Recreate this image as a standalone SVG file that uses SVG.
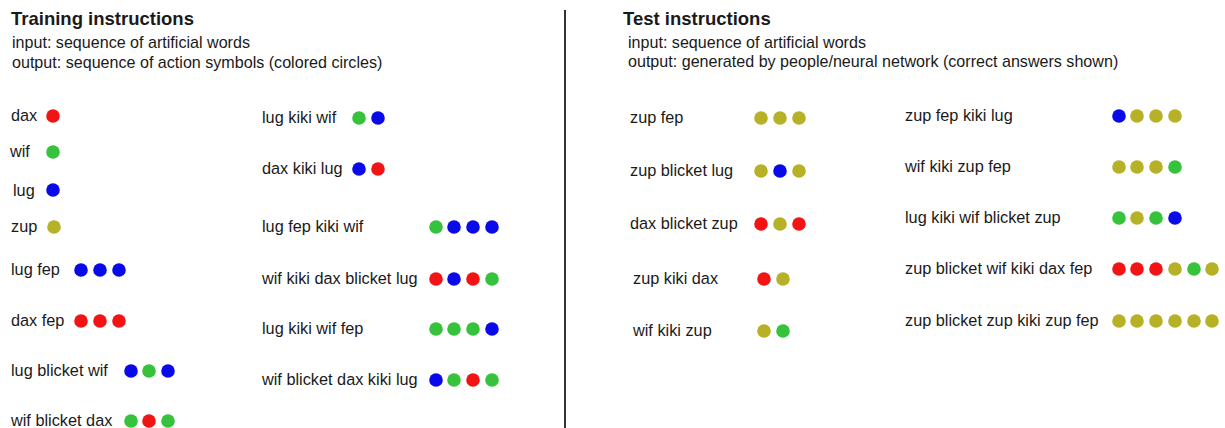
<svg xmlns="http://www.w3.org/2000/svg" width="1225" height="428" viewBox="0 0 1225 428">
  <style>
    text { font-family: "Liberation Sans", Arial, Helvetica, sans-serif; fill: #1a1a1a; }
    .h { font-size: 18.5px; font-weight: bold; }
    .sub { font-size: 16.1px; }
    .lbl { font-size: 16.3px; }
    circle { stroke: none; }
    .r { fill: #f21414; }
    .g { fill: #36c23a; }
    .b { fill: #0a0ae8; }
    .y { fill: #b6b126; }
  </style>
  <defs>
    <circle id="dot" r="6.8"/>
  </defs>
  <rect width="1225" height="428" fill="#ffffff"/>

  <!-- divider between the two panels -->
  <line x1="565" y1="10" x2="565" y2="428" stroke="#333333" stroke-width="2"/>

  <!-- left panel header -->
  <g id="training-header">
    <text class="h" x="11" y="25">Training instructions</text>
    <text class="sub" x="12" y="48">input: sequence of artificial words</text>
    <text class="sub" x="12" y="68">output: sequence of action symbols (colored circles)</text>
  </g>

  <!-- right panel header -->
  <g id="test-header">
    <text class="h" x="623" y="25">Test instructions</text>
    <text class="sub" x="628" y="48">input: sequence of artificial words</text>
    <text class="sub" x="628" y="67">output: generated by people/neural network (correct answers shown)</text>
  </g>

  <!-- training: primitives and functions -->
  <g id="tr-dax"><text class="lbl" x="11" y="121">dax</text><use href="#dot" class="r" x="53" y="116"/></g>
  <g id="tr-wif"><text class="lbl" x="10" y="157">wif</text><use href="#dot" class="g" x="53" y="152"/></g>
  <g id="tr-lug"><text class="lbl" x="13" y="196">lug</text><use href="#dot" class="b" x="53" y="190"/></g>
  <g id="tr-zup"><text class="lbl" x="11" y="232">zup</text><use href="#dot" class="y" x="54" y="227"/></g>
  <g id="tr-lug-fep"><text class="lbl" x="11" y="275">lug fep</text>
    <use href="#dot" class="b" x="81" y="270"/><use href="#dot" class="b" x="100" y="270"/><use href="#dot" class="b" x="119" y="270"/></g>
  <g id="tr-dax-fep"><text class="lbl" x="11" y="326">dax fep</text>
    <use href="#dot" class="r" x="81" y="321"/><use href="#dot" class="r" x="100" y="321"/><use href="#dot" class="r" x="119" y="321"/></g>
  <g id="tr-lug-blicket-wif"><text class="lbl" x="11" y="376">lug blicket wif</text>
    <use href="#dot" class="b" x="131" y="371"/><use href="#dot" class="g" x="149" y="371"/><use href="#dot" class="b" x="168" y="371"/></g>
  <g id="tr-wif-blicket-dax"><text class="lbl" x="11" y="426">wif blicket dax</text>
    <use href="#dot" class="g" x="131" y="421"/><use href="#dot" class="r" x="149" y="421"/><use href="#dot" class="g" x="168" y="421"/></g>

  <g id="tr-lug-kiki-wif"><text class="lbl" x="262" y="123">lug kiki wif</text>
    <use href="#dot" class="g" x="359" y="118"/><use href="#dot" class="b" x="378" y="118"/></g>
  <g id="tr-dax-kiki-lug"><text class="lbl" x="262" y="174">dax kiki lug</text>
    <use href="#dot" class="b" x="359" y="169"/><use href="#dot" class="r" x="378" y="169"/></g>
  <g id="tr-lug-fep-kiki-wif"><text class="lbl" x="262" y="232">lug fep kiki wif</text>
    <use href="#dot" class="g" x="436" y="227"/><use href="#dot" class="b" x="454" y="227"/><use href="#dot" class="b" x="473" y="227"/><use href="#dot" class="b" x="492" y="227"/></g>
  <g id="tr-wif-kiki-dax-blicket-lug"><text class="lbl" x="262" y="284">wif kiki dax blicket lug</text>
    <use href="#dot" class="r" x="436" y="279"/><use href="#dot" class="b" x="454" y="279"/><use href="#dot" class="r" x="473" y="279"/><use href="#dot" class="g" x="492" y="279"/></g>
  <g id="tr-lug-kiki-wif-fep"><text class="lbl" x="262" y="334">lug kiki wif fep</text>
    <use href="#dot" class="g" x="436" y="329"/><use href="#dot" class="g" x="454" y="329"/><use href="#dot" class="g" x="473" y="329"/><use href="#dot" class="b" x="492" y="329"/></g>
  <g id="tr-wif-blicket-dax-kiki-lug"><text class="lbl" x="262" y="385">wif blicket dax kiki lug</text>
    <use href="#dot" class="b" x="436" y="380"/><use href="#dot" class="g" x="454" y="380"/><use href="#dot" class="r" x="473" y="380"/><use href="#dot" class="g" x="492" y="380"/></g>

  <!-- test: first column -->
  <g id="te-zup-fep"><text class="lbl" x="630" y="123">zup fep</text>
    <use href="#dot" class="y" x="761" y="118"/><use href="#dot" class="y" x="780" y="118"/><use href="#dot" class="y" x="799" y="118"/></g>
  <g id="te-zup-blicket-lug"><text class="lbl" x="630" y="176">zup blicket lug</text>
    <use href="#dot" class="y" x="761" y="171"/><use href="#dot" class="b" x="780" y="171"/><use href="#dot" class="y" x="799" y="171"/></g>
  <g id="te-dax-blicket-zup"><text class="lbl" x="630" y="229">dax blicket zup</text>
    <use href="#dot" class="r" x="761" y="224"/><use href="#dot" class="y" x="780" y="224"/><use href="#dot" class="r" x="799" y="224"/></g>
  <g id="te-zup-kiki-dax"><text class="lbl" x="633" y="284">zup kiki dax</text>
    <use href="#dot" class="r" x="764" y="279"/><use href="#dot" class="y" x="783" y="279"/></g>
  <g id="te-wif-kiki-zup"><text class="lbl" x="633" y="336">wif kiki zup</text>
    <use href="#dot" class="y" x="764" y="331"/><use href="#dot" class="g" x="783" y="331"/></g>

  <!-- test: second column -->
  <g id="te-zup-fep-kiki-lug"><text class="lbl" x="905" y="121">zup fep kiki lug</text>
    <use href="#dot" class="b" x="1119" y="116"/><use href="#dot" class="y" x="1137" y="116"/><use href="#dot" class="y" x="1156" y="116"/><use href="#dot" class="y" x="1175" y="116"/></g>
  <g id="te-wif-kiki-zup-fep"><text class="lbl" x="905" y="172">wif kiki zup fep</text>
    <use href="#dot" class="y" x="1119" y="167"/><use href="#dot" class="y" x="1137" y="167"/><use href="#dot" class="y" x="1156" y="167"/><use href="#dot" class="g" x="1175" y="167"/></g>
  <g id="te-lug-kiki-wif-blicket-zup"><text class="lbl" x="905" y="223">lug kiki wif blicket zup</text>
    <use href="#dot" class="g" x="1119" y="218"/><use href="#dot" class="y" x="1137" y="218"/><use href="#dot" class="g" x="1156" y="218"/><use href="#dot" class="b" x="1175" y="218"/></g>
  <g id="te-zup-blicket-wif-kiki-dax-fep"><text class="lbl" x="905" y="274">zup blicket wif kiki dax fep</text>
    <use href="#dot" class="r" x="1119" y="269"/><use href="#dot" class="r" x="1137" y="269"/><use href="#dot" class="r" x="1156" y="269"/><use href="#dot" class="y" x="1175" y="269"/><use href="#dot" class="g" x="1194" y="269"/><use href="#dot" class="y" x="1212" y="269"/></g>
  <g id="te-zup-blicket-zup-kiki-zup-fep"><text class="lbl" x="905" y="326">zup blicket zup kiki zup fep</text>
    <use href="#dot" class="y" x="1119" y="321"/><use href="#dot" class="y" x="1137" y="321"/><use href="#dot" class="y" x="1156" y="321"/><use href="#dot" class="y" x="1175" y="321"/><use href="#dot" class="y" x="1194" y="321"/><use href="#dot" class="y" x="1212" y="321"/></g>
</svg>
